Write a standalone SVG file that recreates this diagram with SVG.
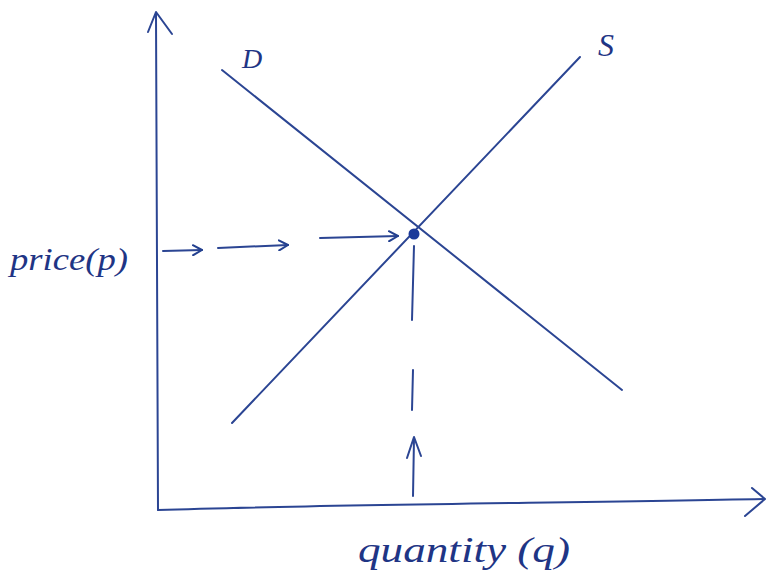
<svg xmlns="http://www.w3.org/2000/svg" width="770" height="583" viewBox="0 0 770 583">
<defs>
<style>
.ln{stroke:#2b4593;stroke-width:2;fill:none;stroke-linecap:round;stroke-linejoin:round}
.hd{stroke:#23408f;stroke-width:2.2;fill:none;stroke-linecap:round;stroke-linejoin:round}
.lb{fill:#1f3585;font-family:"Liberation Serif","DejaVu Serif",serif;font-style:italic}
</style>
<marker id="ah" viewBox="0 0 12 12" refX="10" refY="6" markerWidth="12" markerHeight="12" markerUnits="userSpaceOnUse" orient="auto">
<path d="M1,1 L10,6 L1,11" class="hd" style="stroke-width:2"/>
</marker>
</defs>
<rect width="770" height="583" fill="#ffffff"/>
<g id="axes">
<path class="ln" d="M158,510 L156,14"/>
<path class="ln" d="M148,32 L156,12 L172,34"/>
<path class="ln" d="M158,510 C300,505 550,503 764,499"/>
<path class="ln" d="M752,488 L765,499 L745,516"/>
</g>
<g id="demand">
<path class="ln" d="M222,70 L622,390"/>
<text class="lb" x="242" y="68" font-size="28">D</text>
</g>
<g id="supply">
<path class="ln" d="M232,423 L580,57"/>
<text class="lb" x="598" y="56" font-size="32">S</text>
</g>
<g id="equilibrium">
<circle cx="414" cy="234" r="5.5" fill="#1b3a9a"/>
</g>
<g id="connectors">
<path class="ln" d="M163,251 L202,250" marker-end="url(#ah)"/>
<path class="ln" d="M218,248 L288,245" marker-end="url(#ah)"/>
<path class="ln" d="M320,238 L398,236" marker-end="url(#ah)"/>
<path class="ln" d="M414,246 L412,320"/>
<path class="ln" d="M413,370 L412,410"/>
<path class="ln" d="M413,496 L414,438"/>
<path class="ln" d="M407,458 L414,437 L421,456"/>
</g>
<g id="labels">
<text class="lb" x="10" y="270" font-size="32" textLength="118" lengthAdjust="spacingAndGlyphs">price(p)</text>
<text class="lb" x="358" y="562" font-size="36" textLength="212" lengthAdjust="spacingAndGlyphs">quantity (q)</text>
</g>
</svg>
